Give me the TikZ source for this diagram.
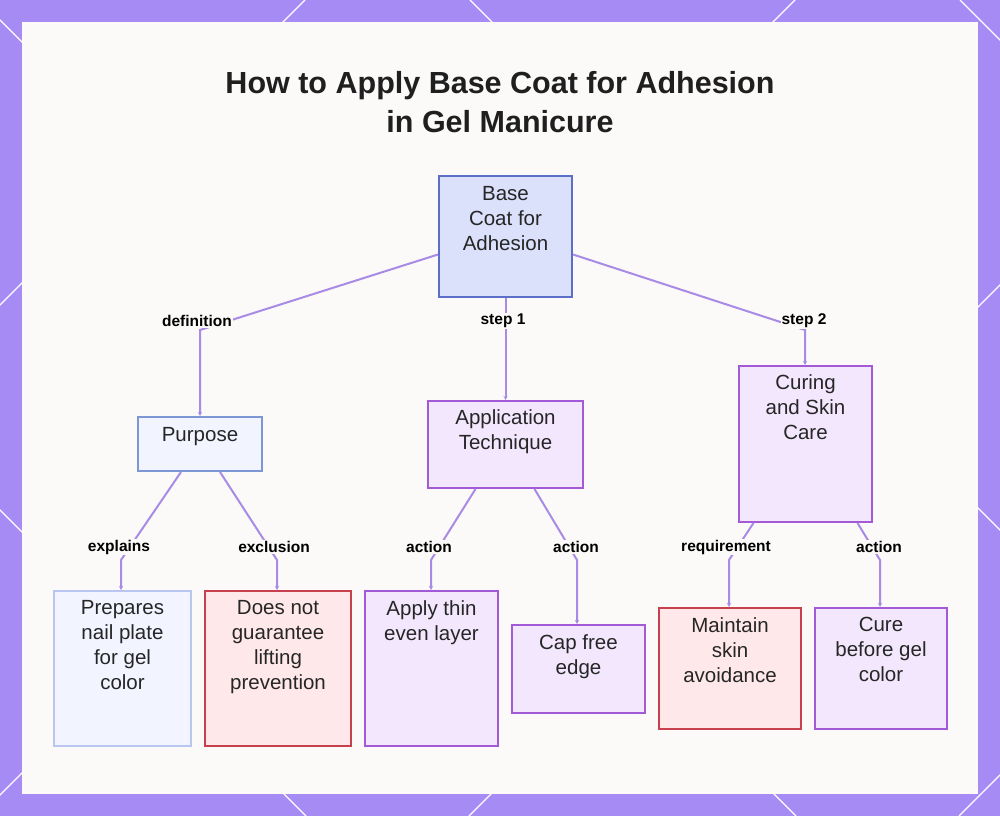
\documentclass[tikz,border=0pt]{standalone}
\usepackage{fontspec}
\setmainfont{Liberation Sans}
\usetikzlibrary{arrows.meta}
\definecolor{frame}{HTML}{A78BF5}
\definecolor{panel}{HTML}{FBFAF9}
\definecolor{edge}{HTML}{A98BE6}
\definecolor{rootfill}{HTML}{DBE0FB}
\definecolor{rootline}{HTML}{5B6FC9}
\definecolor{bluefill}{HTML}{F2F5FF}
\definecolor{blueline}{HTML}{7D96D6}
\definecolor{paleline}{HTML}{B9C6F0}
\definecolor{redfill}{HTML}{FFE8EA}
\definecolor{redline}{HTML}{C8404D}
\definecolor{violfill}{HTML}{F2E7FC}
\definecolor{violline}{HTML}{A35AD6}
\tikzset{
  box/.style={draw, line width=2pt, anchor=north west, inner sep=0pt},
  txt/.style={anchor=north, align=center, font=\fontsize{20.5}{25}\selectfont, text=black!85},
  lab/.style={font=\bfseries\fontsize{15.5}{18}\selectfont, fill=panel, inner sep=1pt},
  link/.style={draw=edge, line width=2pt, -{Stealth[length=4pt,width=4pt]}}
}
\begin{document}
\begin{tikzpicture}[x=1pt,y=-1pt]
  % frame and panel
  \fill[frame] (0,0) rectangle (1000,816);
  \begin{scope}
    \clip (0,0) rectangle (1000,816);
    \foreach \c in {-1000,-510,-20,470,960} \draw[white, line width=1.2pt] (\c,0) -- (\c+816,816);
    \foreach \c in {305,795,1285,1775} \draw[white, line width=1.2pt] (\c,0) -- (\c-816,816);
  \end{scope}
  \fill[panel] (22,22) rectangle (978,794);
  \useasboundingbox (0,0) rectangle (1000,816);
  % title
  \node[align=center, font=\bfseries\fontsize{30.5}{39}\selectfont, text=black!88] (title) at (500,102)
    {How to Apply Base Coat for Adhesion\\in Gel Manicure};
  % boxes
  \node[box, fill=rootfill, draw=rootline, minimum width=133, minimum height=121] (root) at (438,175) {};
  \node[box, fill=bluefill, draw=blueline, minimum width=124, minimum height=54] (purp) at (137,416) {};
  \node[box, fill=violfill, draw=violline, minimum width=155, minimum height=87] (tech) at (427,400) {};
  \node[box, fill=violfill, draw=violline, minimum width=133, minimum height=156] (cure) at (738,365) {};
  \node[box, fill=bluefill, draw=paleline, minimum width=137, minimum height=155] (prep) at (53,590) {};
  \node[box, fill=redfill, draw=redline, minimum width=146, minimum height=155] (nolift) at (204,590) {};
  \node[box, fill=violfill, draw=violline, minimum width=133, minimum height=155] (thin) at (364,590) {};
  \node[box, fill=violfill, draw=violline, minimum width=133, minimum height=88] (cap) at (511,624) {};
  \node[box, fill=redfill, draw=redline, minimum width=142, minimum height=121] (skin) at (658,607) {};
  \node[box, fill=violfill, draw=violline, minimum width=132, minimum height=121] (cureb) at (814,607) {};
  % texts
  \node[txt] (roott) at ([yshift=-8]root.north) {Base\\Coat for\\Adhesion};
  \node[txt] (purpt) at ([yshift=-8]purp.north) {Purpose};
  \node[txt] (techt) at ([yshift=-6]tech.north) {Application\\Technique};
  \node[txt] (curet) at ([yshift=-6]cure.north) {Curing\\and Skin\\Care};
  \node[txt] (prept) at ([yshift=-7]prep.north) {Prepares\\nail plate\\for gel\\color};
  \node[txt] (nolitt) at ([yshift=-7]nolift.north) {Does not\\guarantee\\lifting\\prevention};
  \node[txt] (thint) at ([yshift=-7]thin.north) {Apply thin\\even layer};
  \node[txt] (capt) at ([yshift=-7]cap.north) {Cap free\\edge};
  \node[txt] (skint) at ([yshift=-7]skin.north) {Maintain\\skin\\avoidance};
  \node[txt] (curebt) at ([yshift=-7]cureb.north) {Cure\\before gel\\color};
  % bends
  \coordinate (b1) at (200,330);
  \coordinate (b2) at (805,330);
  \coordinate (b3) at (121,560);
  \coordinate (b4) at (277,560);
  \coordinate (b5) at (431,560);
  \coordinate (b6) at (577,560);
  \coordinate (b7) at (729,560);
  \coordinate (b8) at (880,560);
  % connectors
  \draw[link] ([yshift=-18]root.west) -- (b1) -- (b1 |- purp.north);
  \draw[link] ([xshift=0.01]root.south) -- ([xshift=0.01]tech.north -| root.south);
  \draw[link] ([yshift=-18]root.east) -- (b2) -- (b2 |- cure.north);
  \draw[link] ([xshift=-19]purp.south) -- (b3) -- (b3 |- prep.north);
  \draw[link] ([xshift=20]purp.south) -- (b4) -- (b4 |- nolift.north);
  \draw[link] ([xshift=-30]tech.south) -- (b5) -- (b5 |- thin.north);
  \draw[link] ([xshift=29]tech.south) -- (b6) -- (b6 |- cap.north);
  \draw[link] ([xshift=-52]cure.south) -- (b7) -- (b7 |- skin.north);
  \draw[link] ([xshift=52]cure.south) -- (b8) -- (b8 |- cureb.north);
  % labels
  \node[lab] (l1) at (197,321) {definition};
  \node[lab] (l2) at (503,321) {step 1};
  \node[lab] (l3) at (804,321) {step 2};
  \node[lab] (l4) at (119,547) {explains};
  \node[lab] (l5) at (274,547) {exclusion};
  \node[lab] (l6) at (429,547) {action};
  \node[lab] (l7) at (576,547) {action};
  \node[lab] (l8) at (726,547) {requirement};
  \node[lab] (l9) at (879,547) {action};
\end{tikzpicture}
\end{document}
